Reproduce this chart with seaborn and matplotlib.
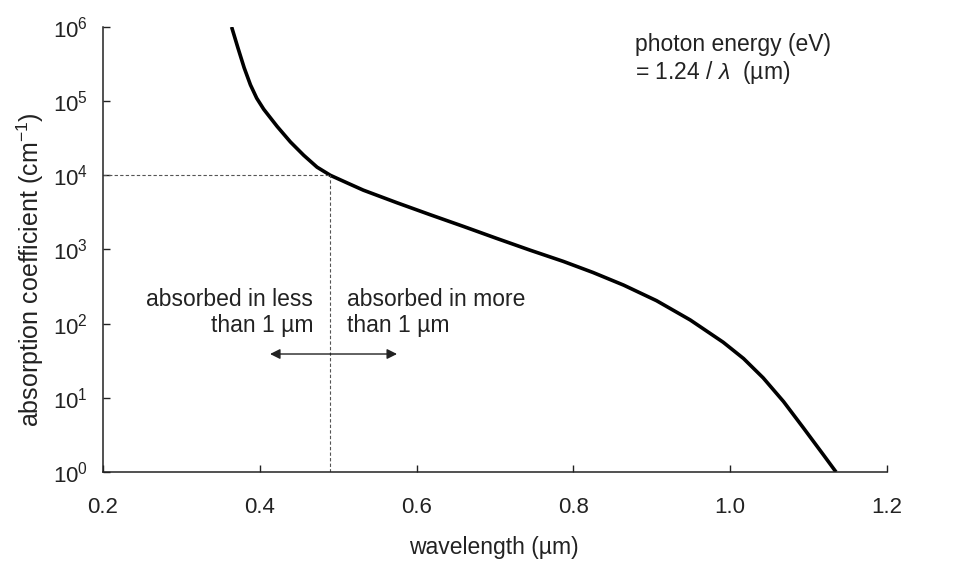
import numpy as np
import pandas as pd
import matplotlib
matplotlib.use("Agg")
import matplotlib.pyplot as plt
import seaborn as sns

# values (x in um, y as log10 of absorption coefficient)
wavelength = [0.364, 0.372, 0.380, 0.388, 0.396, 0.405, 0.422, 0.439, 0.456,
              0.473, 0.490, 0.513, 0.532, 0.575, 0.617, 0.660, 0.702, 0.745,
              0.787, 0.825, 0.864, 0.906, 0.949, 0.991, 1.017, 1.042, 1.068,
              1.093, 1.119, 1.135]
log_alpha = [6.00, 5.72, 5.45, 5.22, 5.04, 4.89, 4.66, 4.45, 4.27,
             4.11, 4.00, 3.89, 3.80, 3.63, 3.47, 3.31, 3.15, 2.99,
             2.84, 2.69, 2.52, 2.31, 2.05, 1.75, 1.53, 1.27, 0.95,
             0.60, 0.23, 0.00]

xticks = [0.2, 0.4, 0.6, 0.8, 1.0, 1.2]
yticks = [1, 10, 100, 1000, 10000, 100000, 1000000]
ytick_labels = [r"$10^{0}$", r"$10^{1}$", r"$10^{2}$", r"$10^{3}$",
                r"$10^{4}$", r"$10^{5}$", r"$10^{6}$"]

cutoff_x = 0.49
cutoff_y = 1e4
arrow_y = 39
arrow_left = 0.413
arrow_right = 0.575

df = pd.DataFrame({"wavelength": wavelength,
                   "alpha": [10 ** v for v in log_alpha]})

sns.set_style("ticks")
plt.rcParams["font.family"] = ["Liberation Sans", "DejaVu Sans"]
plt.rcParams["mathtext.fontset"] = "custom"
plt.rcParams["mathtext.rm"] = "Liberation Sans"
plt.rcParams["mathtext.it"] = "Liberation Sans:italic"
plt.rcParams["mathtext.default"] = "rm"

fig = plt.figure(figsize=(9.55, 5.62), dpi=100)
ax = fig.add_axes([0.1079, 0.1601, 0.8209, 0.7919])

sns.lineplot(data=df, x="wavelength", y="alpha", ax=ax, color="black",
             linewidth=2.6, solid_capstyle="butt", solid_joinstyle="round")

ax.set_yscale("log")
ax.set_xlim(0.2, 1.2)
ax.set_ylim(1, 1e6)

# dashed guide lines at 1e4 cm^-1
ax.plot([0.2, cutoff_x], [cutoff_y, cutoff_y], color="#555555",
        linestyle=(0, (3, 2)), linewidth=0.8)
ax.plot([cutoff_x, cutoff_x], [1, cutoff_y], color="#555555",
        linestyle=(0, (3, 2)), linewidth=0.8)

# double arrow
for end in (arrow_left, arrow_right):
    ax.annotate("", xy=(end, arrow_y), xytext=(cutoff_x, arrow_y),
                arrowprops=dict(arrowstyle="-|>", color="#222222", lw=1.0,
                                mutation_scale=15, shrinkA=0, shrinkB=0))

fs = 16.5
ax.text(0.468, 141, "absorbed in less\nthan 1 \u00b5m", ha="right", va="center",
        fontsize=fs, linespacing=1.15, color="#222222")
ax.text(0.511, 141, "absorbed in more\nthan 1 \u00b5m", ha="left", va="center",
        fontsize=fs, linespacing=1.15, color="#222222")
ax.text(0.8786, 3.6e5, "photon energy (eV)\n= 1.24 / $\\mathit{\\lambda}$  (\u00b5m)",
        ha="left", va="center", fontsize=fs, linespacing=1.15, color="#222222")

ax.set_xticks(xticks)
ax.set_xticklabels([f"{v:.1f}" for v in xticks])
ax.set_yticks(yticks)
ax.set_yticklabels(ytick_labels)
ax.minorticks_off()
ax.tick_params(direction="in", length=5, width=1, colors="#222222")
ax.tick_params(axis="x", labelsize=16, pad=18)
ax.tick_params(axis="y", labelsize=16, pad=11)

ax.set_xlabel("wavelength (\u00b5m)", fontsize=fs, color="#222222")
ax.xaxis.set_label_coords(0.499, -0.144)
ax.set_ylabel("absorption coefficient (cm$^{-1}$)", fontsize=18,
              color="#222222")
ax.yaxis.set_label_coords(-0.073, 0.454)

sns.despine(ax=ax)
for s in ["left", "bottom"]:
    ax.spines[s].set_linewidth(1.1)
    ax.spines[s].set_color("#222222")

fig.savefig("out.png", dpi=100)
